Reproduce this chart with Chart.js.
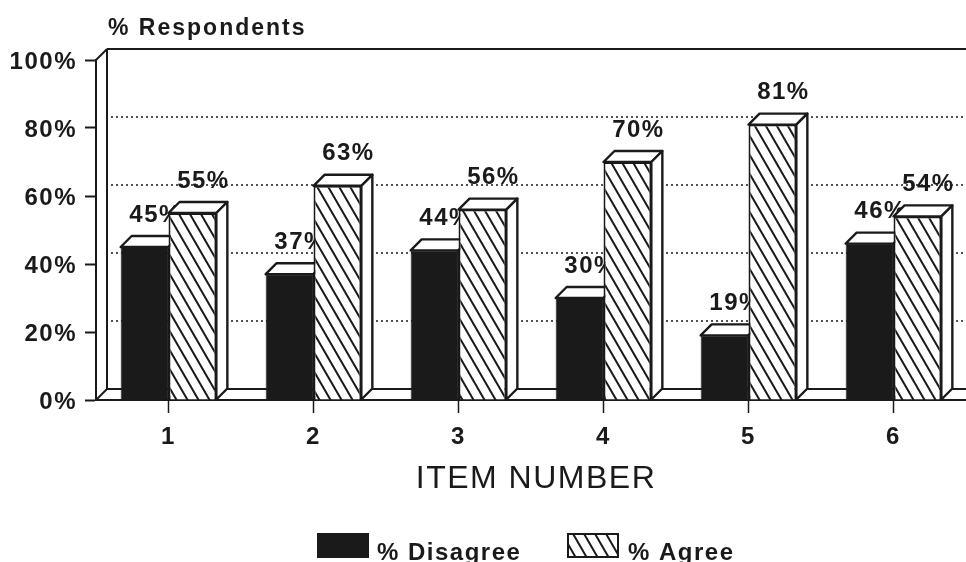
<!DOCTYPE html>
<html>
<head>
<meta charset="utf-8">
<style>
  html, body { margin: 0; padding: 0; background: #fff; }
  canvas { display: block; }
</style>
<script src="https://cdn.jsdelivr.net/npm/chart.js@4/dist/chart.umd.min.js"></script>
</head>
<body>
<canvas id="myChart" width="966" height="562"></canvas>
<script>
const items = ["1", "2", "3", "4", "5", "6"];
const disagree = [45, 37, 44, 30, 19, 46];
const agree = [55, 63, 56, 70, 81, 54];

const INK = "#1a1a1a";
const DEPTH = 11; // how far the fake 3D faces go back

// diagonal hatch used by the "% Agree" bars and the legend
function makeHatch() {
  const w = 11;
  const h = 19;
  const tile = document.createElement("canvas");
  tile.width = w;
  tile.height = h;
  const t = tile.getContext("2d");
  t.fillStyle = "#fff";
  t.fillRect(0, 0, w, h);
  t.strokeStyle = INK;
  t.lineWidth = 2;
  t.beginPath();
  t.moveTo(-w, -h);
  t.lineTo(2 * w, 2 * h);
  t.moveTo(-2 * w, -h);
  t.lineTo(w, 2 * h);
  t.moveTo(0, -h);
  t.lineTo(3 * w, 2 * h);
  t.stroke();
  return t.createPattern(tile, "repeat");
}
const hatch = makeHatch();

function line(ctx, x1, y1, x2, y2) {
  ctx.beginPath();
  ctx.moveTo(x1, y1);
  ctx.lineTo(x2, y2);
  ctx.stroke();
}

function face(ctx, pts) {
  ctx.beginPath();
  pts.forEach(function (p, i) {
    if (i === 0) ctx.moveTo(p[0], p[1]);
    else ctx.lineTo(p[0], p[1]);
  });
  ctx.closePath();
  ctx.fillStyle = "#fff";
  ctx.fill();
  ctx.stroke();
}

// top and side faces plus the value label of one series
function decorate(chart, index) {
  const ctx = chart.ctx;
  const values = chart.data.datasets[index].data;
  ctx.save();
  ctx.strokeStyle = INK;
  ctx.lineWidth = 2.4;
  ctx.lineJoin = "round";
  chart.getDatasetMeta(index).data.forEach(function (bar, i) {
    const half = bar.width / 2;
    const l = bar.x - half;
    const r = bar.x + half;
    const top = bar.y;
    const bottom = bar.base;
    face(ctx, [[l, top], [l + DEPTH, top - DEPTH], [r + DEPTH, top - DEPTH], [r, top]]);
    face(ctx, [[r, top], [r + DEPTH, top - DEPTH], [r + DEPTH, bottom - DEPTH], [r, bottom]]);
    ctx.fillStyle = INK;
    ctx.font = "bold 24px 'Liberation Sans'";
    ctx.textAlign = "center";
    ctx.textBaseline = "middle";
    ctx.fillText(values[i] + "%", bar.x + DEPTH, top - 32);
  });
  ctx.restore();
}

const look3d = {
  id: "look3d",
  beforeDraw(chart) {
    chart.ctx.letterSpacing = "1.5px";
  },
  // back wall, floor and the dotted lines sit behind the bars
  beforeDatasetsDraw(chart) {
    const ctx = chart.ctx;
    const a = chart.chartArea;
    const y = chart.scales.y;
    ctx.save();
    ctx.strokeStyle = INK;
    ctx.lineWidth = 2;
    line(ctx, a.left + DEPTH, y.getPixelForValue(100) - DEPTH, a.right, y.getPixelForValue(100) - DEPTH);
    line(ctx, a.left + DEPTH, y.getPixelForValue(100) - DEPTH, a.left + DEPTH, y.getPixelForValue(0) - DEPTH);
    line(ctx, a.left + DEPTH, y.getPixelForValue(0) - DEPTH, a.right, y.getPixelForValue(0) - DEPTH);
    line(ctx, a.left, y.getPixelForValue(100), a.left + DEPTH, y.getPixelForValue(100) - DEPTH);
    line(ctx, a.left, y.getPixelForValue(0), a.left + DEPTH, y.getPixelForValue(0) - DEPTH);
    ctx.setLineDash([2, 3]);
    ctx.lineWidth = 1.6;
    y.ticks.forEach(function (t) {
      if (t.value === 0 || t.value === 100) return;
      const py = y.getPixelForValue(t.value) - DEPTH;
      line(ctx, a.left + DEPTH + 4, py, a.right, py);
    });
    ctx.restore();
  },
  // chart.js paints the last dataset first, but here "% Agree" has to cover "% Disagree"
  beforeDatasetDraw(chart, args) {
    return args.index !== 1;
  },
  afterDatasetDraw(chart, args) {
    decorate(chart, 0);
    chart.getDatasetMeta(1).controller.draw();
    decorate(chart, 1);
  },
  afterDraw(chart) {
    const ctx = chart.ctx;
    ctx.save();
    ctx.fillStyle = INK;
    ctx.textBaseline = "middle";
    ctx.textAlign = "left";
    ctx.font = "bold 23px 'Liberation Sans'";
    ctx.letterSpacing = "2px";
    ctx.fillText("% Respondents", 108, 29);

    ctx.letterSpacing = "1.5px";
    ctx.textAlign = "center";
    ctx.font = "32px 'Liberation Sans'";
    ctx.fillText("ITEM NUMBER", 536, 479);

    // legend
    ctx.textAlign = "left";
    const ds = chart.data.datasets;
    ctx.fillStyle = ds[0].backgroundColor;
    ctx.fillRect(317, 533, 52, 25);
    ctx.fillStyle = INK;
    ctx.font = "bold 24px 'Liberation Sans'";
    ctx.fillText(ds[0].label, 377, 553);
    ctx.fillStyle = ds[1].backgroundColor;
    ctx.strokeStyle = INK;
    ctx.lineWidth = 2;
    ctx.fillRect(567, 533, 52, 25);
    ctx.strokeRect(568, 534, 50, 23);
    ctx.fillStyle = INK;
    ctx.fillText(ds[1].label, 628, 553);
    ctx.restore();
  },
};

new Chart(document.getElementById("myChart").getContext("2d"), {
  type: "bar",
  data: {
    labels: items,
    datasets: [
      {
        label: "% Disagree",
        data: disagree,
        backgroundColor: INK,
        borderColor: INK,
        borderWidth: 1,
      },
      {
        label: "% Agree",
        data: agree,
        backgroundColor: hatch,
        borderColor: INK,
        borderWidth: 2,
      },
    ],
  },
  options: {
    responsive: false,
    animation: false,
    layout: { padding: { top: 60, left: 0, right: 0, bottom: 0 } },
    categoryPercentage: 0.66,
    barPercentage: 1,
    plugins: {
      legend: { display: false },
      title: { display: false },
      tooltip: { enabled: false },
    },
    scales: {
      x: {
        afterFit(scale) {
          scale.height = 162;
        },
        grid: {
          offset: false,
          drawOnChartArea: false,
          tickLength: 13,
          tickColor: INK,
          tickWidth: 1.5,
        },
        border: { color: INK, width: 2 },
        ticks: {
          color: INK,
          font: { family: "Liberation Sans", size: 24, weight: "bold" },
          padding: 10,
          maxRotation: 0,
        },
      },
      y: {
        min: 0,
        max: 100,
        afterFit(scale) {
          scale.width = 96;
        },
        grid: {
          drawOnChartArea: false,
          tickLength: 11,
          tickColor: INK,
          tickWidth: 2,
        },
        border: { color: INK, width: 2 },
        ticks: {
          stepSize: 20,
          color: INK,
          font: { family: "Liberation Sans", size: 24, weight: "bold" },
          padding: 8,
          labelOffset: 2,
          callback: function (v) {
            return v + "%";
          },
        },
      },
    },
  },
  plugins: [look3d],
});
</script>
</body>
</html>
